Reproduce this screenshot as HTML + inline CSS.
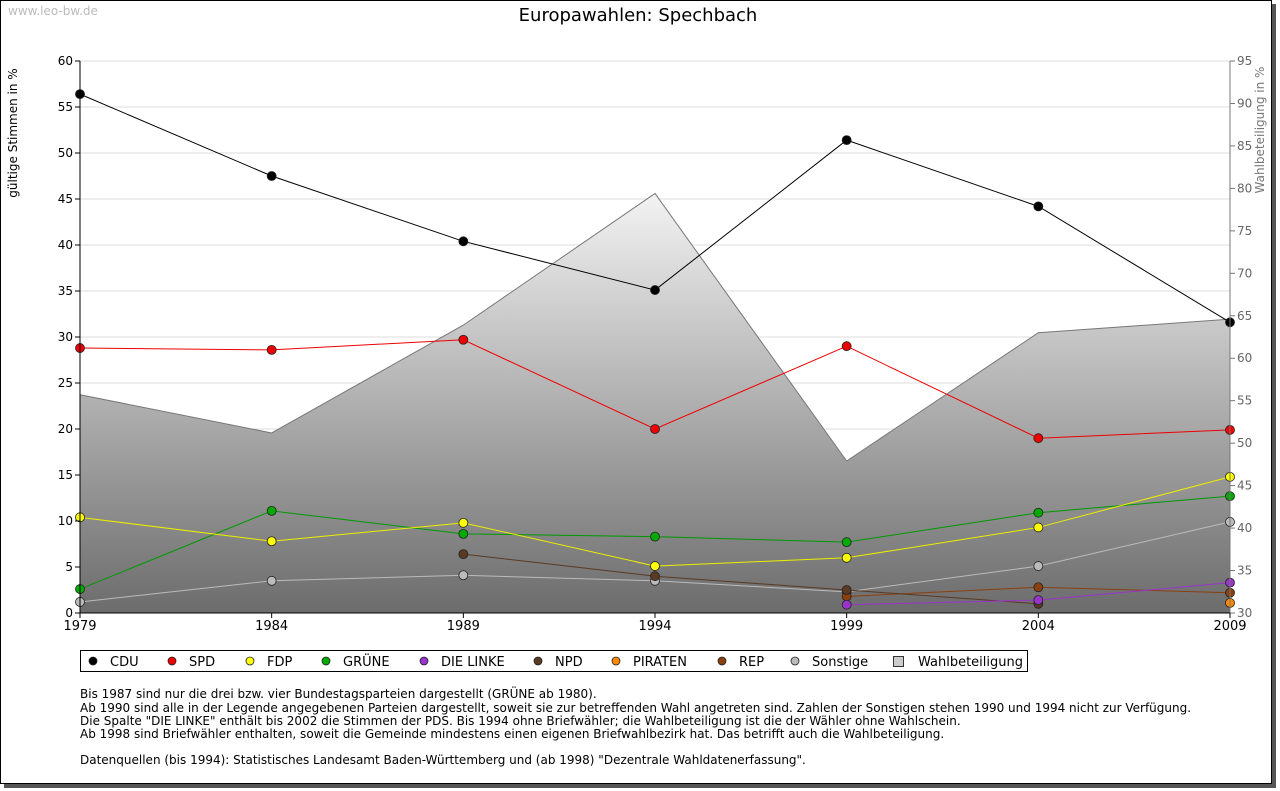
<!DOCTYPE html>
<html><head><meta charset="utf-8">
<style>
body{margin:0;background:#fff;width:1280px;height:791px;overflow:hidden;font-family:"DejaVu Sans","Liberation Sans",sans-serif;}
svg{position:absolute;left:0;top:0}
</style></head>
<body>
<svg id="c" width="1280" height="791" font-family="DejaVu Sans, Liberation Sans, sans-serif">
<defs>
<linearGradient id="fillg" x1="0" y1="190" x2="0" y2="613" gradientUnits="userSpaceOnUse">
<stop offset="0" stop-color="#f4f4f4"/>
<stop offset="1" stop-color="#6c6c6c"/>
</linearGradient>
</defs>
<rect x="4" y="4" width="1272" height="784" fill="#555"/>
<rect x="0.5" y="0.5" width="1271" height="783" fill="#fff" stroke="#000"/>
<text x="8" y="15" font-size="12" fill="#bbb">www.leo-bw.de</text>
<text x="638" y="21" font-size="18" text-anchor="middle" fill="#000">Europawahlen: Spechbach</text>
<text transform="translate(17,133) rotate(-90)" font-size="12" text-anchor="middle">gültige Stimmen in %</text>
<text transform="translate(1264,130) rotate(-90)" font-size="12" text-anchor="middle" fill="#777">Wahlbeteiligung in %</text>
<g id="grid"></g><g id="area"></g><g id="series"></g><g id="axes"></g>
<g id="legend"></g>
<g font-size="12" fill="#000">
<text x="80" y="698">Bis 1987 sind nur die drei bzw. vier Bundestagsparteien dargestellt (GRÜNE ab 1980).</text>
<text x="80" y="712">Ab 1990 sind alle in der Legende angegebenen Parteien dargestellt, soweit sie zur betreffenden Wahl angetreten sind. Zahlen der Sonstigen stehen 1990 und 1994 nicht zur Verfügung.</text>
<text x="80" y="725">Die Spalte "DIE LINKE" enthält bis 2002 die Stimmen der PDS. Bis 1994 ohne Briefwähler; die Wahlbeteiligung ist die der Wähler ohne Wahlschein.</text>
<text x="80" y="738">Ab 1998 sind Briefwähler enthalten, soweit die Gemeinde mindestens einen eigenen Briefwahlbezirk hat. Das betrifft auch die Wahlbeteiligung.</text>
<text x="80" y="764">Datenquellen (bis 1994): Statistisches Landesamt Baden-Württemberg und (ab 1998) "Dezentrale Wahldatenerfassung".</text>
</g>
</svg>
<script>
const years=[1979,1984,1989,1994,1999,2004,2009];
const leftTicks=[0,5,10,15,20,25,30,35,40,45,50,55,60];
const rightTicks=[30,35,40,45,50,55,60,65,70,75,80,85,90,95];
const turnout=[55.7,51.2,63.9,79.4,47.9,63.0,64.6];
const cdu=[56.4,47.5,40.4,35.1,51.4,44.2,31.6];
const spd=[28.8,28.6,29.7,20.0,29.0,19.0,19.9];
const fdp=[10.4,7.8,9.8,5.1,6.0,9.3,14.8];
const gruene=[2.6,11.1,8.6,8.3,7.7,10.9,12.7];
const linke=[null,null,null,null,0.9,1.4,3.3];
const npd=[null,null,6.4,4.0,2.5,1.0,null];
const piraten=[null,null,null,null,null,null,1.1];
const rep=[null,null,null,null,1.8,2.8,2.2];
const sonstige=[1.2,3.5,4.1,3.5,2.3,5.1,9.9];
const NS="http://www.w3.org/2000/svg";
const X0=80,X1=1230,YT=61,YB=613;
const xs=y=>X0+(y-1979)/(2009-1979)*(X1-X0);
const yl=v=>YB-v/60*(YB-YT);
const yr=v=>YB-(v-30)/65*(YB-YT);
function mk(tag,attrs,parent){const e=document.createElementNS(NS,tag);for(const k in attrs)e.setAttribute(k,attrs[k]);parent.appendChild(e);return e;}
const grid=document.getElementById('grid'),axes=document.getElementById('axes');
leftTicks.forEach(t=>{
 const g=mk('line',{x1:X0,x2:X1,y1:yl(t),y2:yl(t),stroke:'#ddd'},grid);
 
 
 mk('line',{x1:X0-5,x2:X0,y1:yl(t),y2:yl(t),stroke:'#000'},axes);
 const tx=mk('text',{x:X0-7,y:yl(t)+4,'font-size':12,'text-anchor':'end'},axes);tx.textContent=t;
 
 
});
rightTicks.forEach(t=>{
 mk('line',{x1:X1,x2:X1+5,y1:yr(t),y2:yr(t),stroke:'#777'},axes);
 const tx=mk('text',{x:X1+7,y:yr(t)+4,'font-size':12,fill:'#666'},axes);tx.textContent=t;
 
 
});
years.forEach(y=>{
 mk('line',{x1:xs(y),x2:xs(y),y1:YB,y2:YB+5,stroke:'#000'},axes);
 const tx=mk('text',{x:xs(y),y:YB+17,'font-size':13,'text-anchor':'middle'},axes);tx.textContent=y;
 
 
});
mk('line',{x1:X0,x2:X0,y1:YT,y2:YB,stroke:'#000'},axes);
mk('line',{x1:X1,x2:X1,y1:YT,y2:YB,stroke:'#777'},axes);
mk('line',{x1:X0,x2:X1,y1:YB,y2:YB,stroke:'#000'},axes);
let d='M'+xs(years[0])+','+YB;
years.forEach((y,i)=>d+=' L'+xs(y)+','+yr(turnout[i]));
d+=' L'+xs(years[years.length-1])+','+YB+' Z';
const ar=mk('path',{d:d,fill:'url(#fillg)',stroke:'#777'},document.getElementById('area'));


const series=[['cdu',cdu,'#000','#000'],['spd',spd,'#e00','#e00'],['fdp',fdp,'#ee0','#ff0'],['gruene',gruene,'#090','#0a0'],['die-linke',linke,'#93c','#93c'],['npd',npd,'#5a3a22','#5a3a22'],['piraten',piraten,'#f80','#f80'],['rep',rep,'#8b4010','#8b4010'],['sonstige',sonstige,'#bbb','#bbb']];
const sg=document.getElementById('series');
const order=[8,7,6,5,4,3,2,1,0];
order.forEach(k=>{
 const [name,vals,lc,fc]=series[k];
 let pts=[];vals.forEach((v,i)=>{if(v!==null)pts.push([xs(years[i]),yl(v)]);});
 if(pts.length>1){const l=mk('polyline',{points:pts.map(p=>p.join(',')).join(' '),fill:'none',stroke:lc,'stroke-width':1},sg);
 
 }
 pts.forEach(p=>{const m=mk('circle',{cx:p[0],cy:p[1],r:4.5,fill:fc,stroke:'#222','stroke-width':0.8},sg);
 
 });
});
const lg=document.getElementById('legend');
const lb=mk('rect',{x:80.5,y:650.5,width:947,height:21,fill:'#fff',stroke:'#000'},lg);


const lItems=[['CDU','#000',93],['SPD','#e00',172],['FDP','#ff0',250],['GRÜNE','#0a0',326],['DIE LINKE','#93c',424],['NPD','#5a3a22',538],['PIRATEN','#f80',616],['REP','#8b4010',722],['Sonstige','#bbb',795]];
lItems.forEach(([t,c,x])=>{
 mk('circle',{cx:x,cy:661,r:4,fill:c,stroke:'#222','stroke-width':0.8},lg);
 const tx=mk('text',{x:x+17,y:666,'font-size':13},lg);tx.textContent=t;
 
 
});
mk('rect',{x:893.5,y:656.5,width:10,height:10,fill:'#ccc',stroke:'#333'},lg);
const wt=mk('text',{x:918,y:666,'font-size':13},lg);wt.textContent='Wahlbeteiligung';


</script>
</body></html>
